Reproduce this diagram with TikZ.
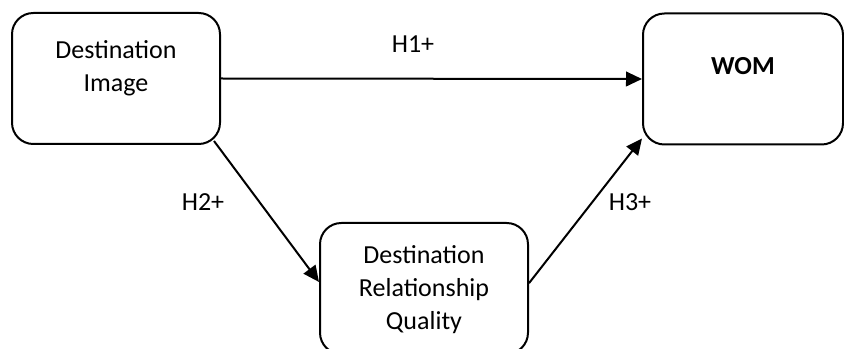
\documentclass[tikz,border=0pt]{standalone}
\usepackage{fontspec}
\setmainfont{Carlito}
\usetikzlibrary{arrows.meta}

\begin{document}
\begin{tikzpicture}[x=0.75pt,y=-0.75pt,
    box/.style={draw,line width=1.5pt,rounded corners=16pt,align=center,
      minimum width=156pt,minimum height=98.25pt,font=\fontsize{19.5}{24.75}\selectfont},
    lbl/.style={font=\fontsize{19.5}{24.75}\selectfont},
    link/.style={line width=1.5pt,-{Triangle[length=12pt,width=11pt]}}]
  \useasboundingbox (0,0) rectangle (844,349);
  \node[box,text height=24pt,text depth=5pt] (img) at (116,78.5) {Destination\\Image};
  \node[box,minimum width=150pt,font=\fontsize{19.5}{24.75}\selectfont\bfseries,
    text height=12.5pt,text depth=19.5pt] (wom) at (743,79) {WOM};
  \node[box,text height=66pt,text depth=4pt] (drq) at (424,288.5) {Destination\\Relationship\\Quality};
  \draw[link] (img.east) -- (wom.west);
  \draw[link] ([xshift=-5.25pt,yshift=3pt]img.south east) -- ([yshift=4.9pt]drq.west);
  \draw[link] ([yshift=4pt]drq.east) -- ([yshift=5.25pt]wom.south west);
  \node[lbl] (h1) at (413,44) {H1+};
  \node[lbl] (h2) at (203,202) {H2+};
  \node[lbl] (h3) at (630,202) {H3+};
\end{tikzpicture}
\end{document}
